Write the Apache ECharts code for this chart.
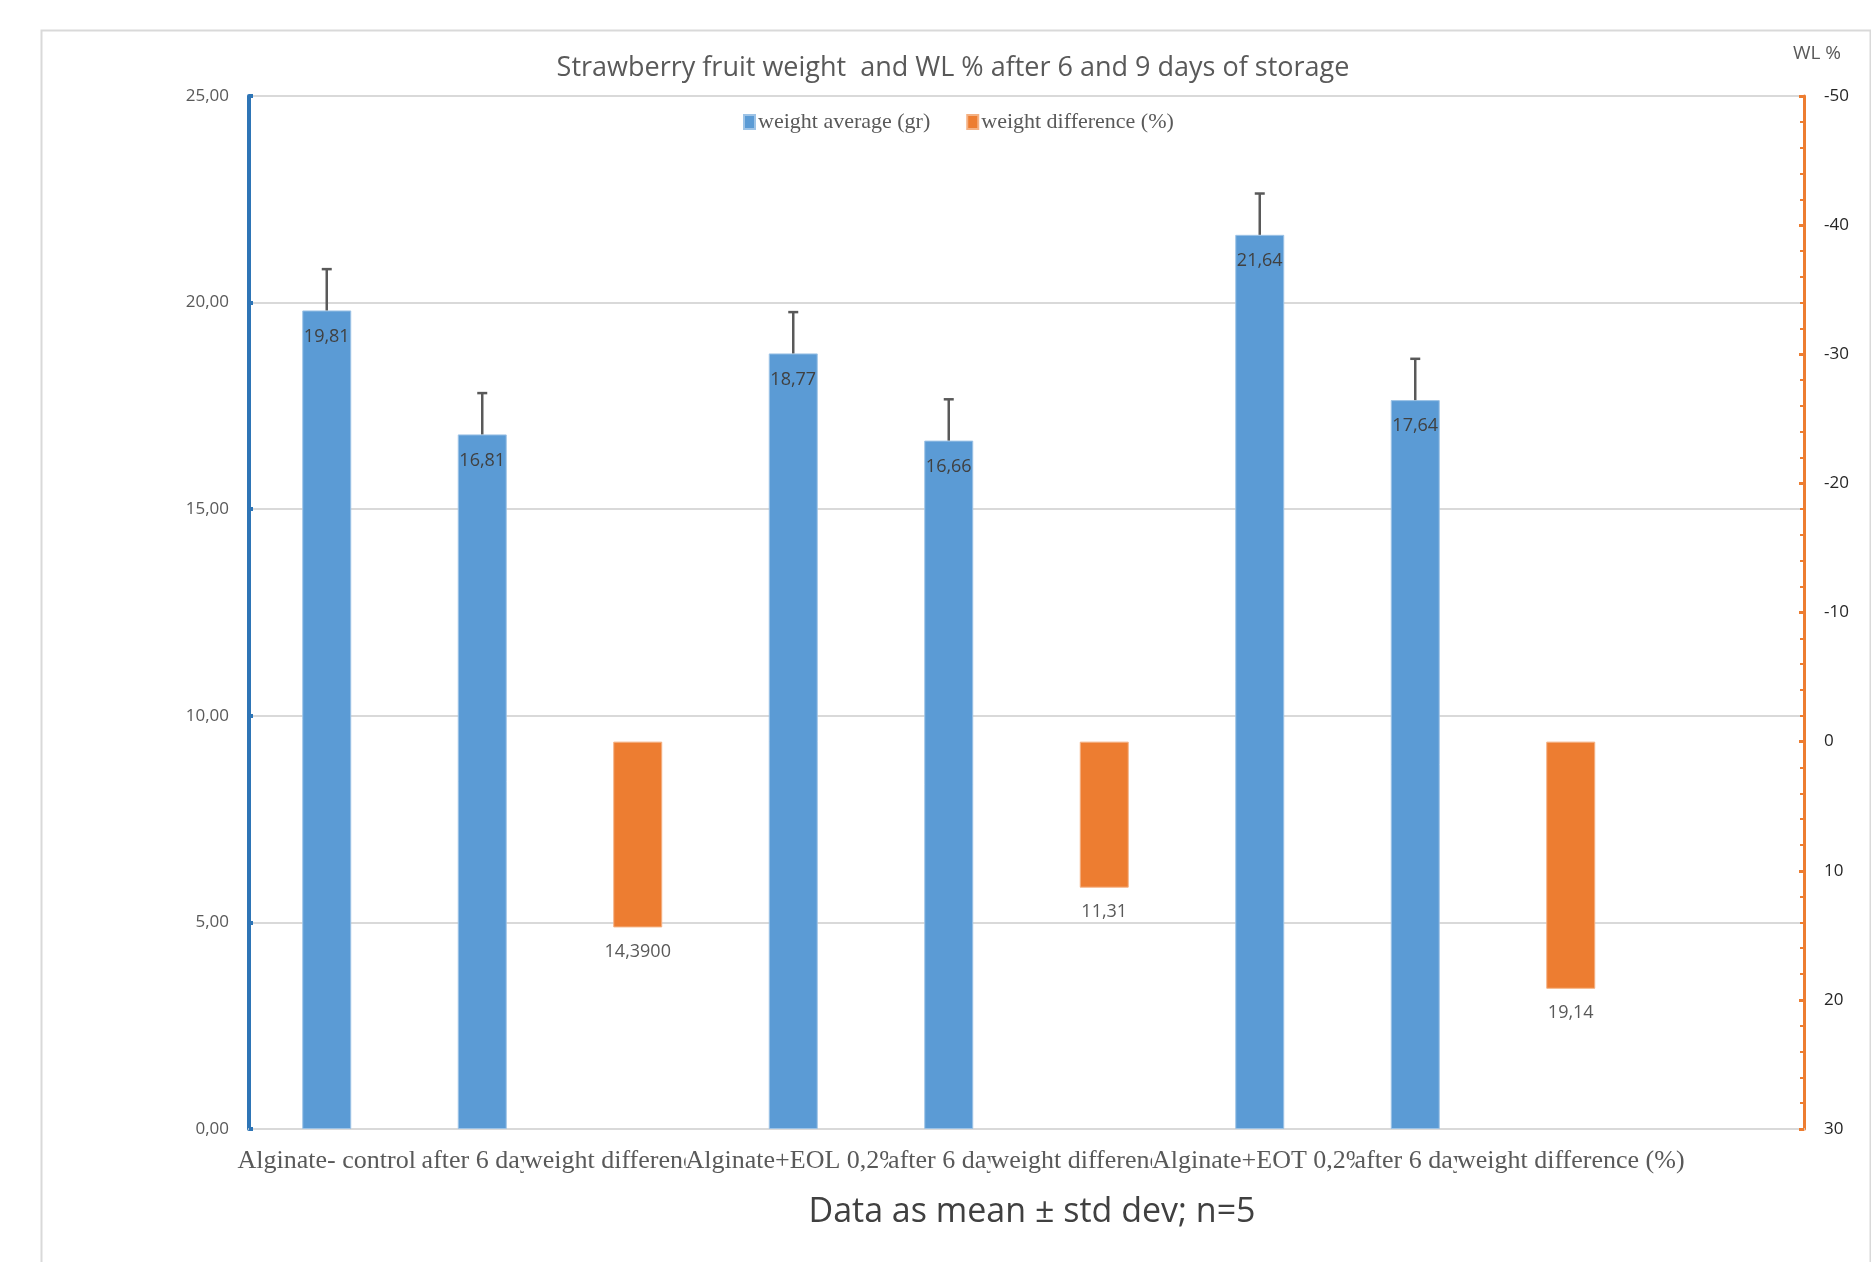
<!DOCTYPE html>
<html>
<head>
<meta charset="utf-8">
<script src="https://cdn.jsdelivr.net/npm/echarts@6/dist/echarts.min.js"></script>
<style>
html,body{margin:0;padding:0;background:#fff;}
#chart{width:1871px;height:1262px;}
</style>
</head>
<body>
<div id="chart"></div>
<script>
// ---- data ----
// Category names; as in the spreadsheet, each label is overdrawn by the next one, so long names appear cut.
const categories = ['Alginate- control', 'after 6 days', 'weight difference (%)', 'Alginate+EOL 0,2%', 'after 6 days', 'weight difference (%)', 'Alginate+EOT 0,2%', 'after 6 days', 'weight difference (%)', ''];
const weightAverage = [19.81, 16.81, null, 18.77, 16.66, null, 21.64, 17.64, null, null];
const weightStdDev = [1.0, 1.0, null, 1.0, 1.0, null, 1.0, 1.0, null, null];
const weightDifference = [null, null, 14.39, null, null, 11.31, null, null, 19.14, null];
const weightDifferenceLabels = ['', '', '14,3900', '', '', '11,31', '', '', '19,14', ''];
const leftTicks = [0, 5, 10, 15, 20, 25];
const rightTicks = [-50, -40, -30, -20, -10, 0, 10, 20, 30];

const errorData = [];
weightAverage.forEach((v, i) => { if (v != null) errorData.push([i, v, weightStdDev[i]]); });

const chart = echarts.init(document.getElementById('chart'));
const gray = '#595959';

chart.setOption({
  backgroundColor: '#ffffff',
  animation: false,
  graphic: [{
    type: 'rect', left: 39, top: 28, silent: true,
    shape: { width: 1829, height: 1300 },
    style: { fill: 'none', stroke: '#d9d9d9', lineWidth: 2 }
  }],
  title: [
    { text: 'Strawberry fruit weight  and WL % after 6 and 9 days of storage', left: 948, top: 50, textAlign: 'center',
      textStyle: { fontFamily: 'Open Sans', fontSize: 27, fontWeight: 'normal', color: gray } },
    { text: 'WL %', left: 1812, top: 39, textAlign: 'center',
      textStyle: { fontFamily: 'Open Sans', fontSize: 19, fontWeight: 'normal', color: gray } },
    { text: 'Data as mean \u00B1 std dev; n=5', left: 1027, top: 1190, textAlign: 'center',
      textStyle: { fontFamily: 'Open Sans', fontSize: 34, fontWeight: 'normal', color: '#404040' } }
  ],
  legend: {
    left: 738, top: 106,
    itemWidth: 11, itemHeight: 14, itemGap: 36, icon: 'rect',
    data: ['weight average (gr)', 'weight difference (%)'],
    textStyle: { fontFamily: 'Liberation Serif', fontSize: 22, color: gray, padding: [0, 0, 0, -2] }
  },
  grid: { left: 249, right: 67, top: 96, bottom: 133 },
  xAxis: {
    type: 'category',
    data: categories,
    axisLine: { show: true, lineStyle: { color: '#d9d9d9', width: 2 } },
    axisTick: { show: false },
    axisLabel: { interval: 0, hideOverlap: false, margin: 19, fontFamily: 'Liberation Serif', fontSize: 26, color: gray,
      backgroundColor: '#ffffff' }
  },
  yAxis: [
    {
      type: 'value', min: leftTicks[0], max: leftTicks[leftTicks.length - 1], interval: 5, position: 'left',
      axisLine: { show: true, lineStyle: { color: '#2e75b6', width: 4 } },
      axisTick: { show: true, inside: true, length: 4, lineStyle: { color: '#2e75b6', width: 4 } },
      splitLine: { show: true, lineStyle: { color: '#d9d9d9', width: 2 } },
      axisLabel: { margin: 20, fontFamily: 'Open Sans', fontSize: 17, color: gray,
        formatter: v => v.toFixed(2).replace('.', ',') }
    },
    {
      type: 'value', min: rightTicks[0], max: rightTicks[rightTicks.length - 1], interval: 10, inverse: true, position: 'right',
      axisLine: { show: true, lineStyle: { color: '#ed7d31', width: 3 } },
      axisTick: { show: true, inside: true, length: 5, lineStyle: { color: '#ed7d31', width: 3 } },
      minorTick: { show: true, splitNumber: 5, length: 4, lineStyle: { color: '#ed7d31', width: 2 } },
      splitLine: { show: false },
      axisLabel: { margin: 20, fontFamily: 'Open Sans', fontSize: 17, color: '#262626', align: 'left' }
    }
  ],
  series: [
    {
      name: 'weight average (gr)', type: 'bar', yAxisIndex: 0, data: weightAverage,
      barWidth: '31.5%', barGap: '-100%',
      itemStyle: { color: '#5b9bd5', borderColor: '#9dc3e6', borderWidth: 1 },
      label: { show: true, position: 'insideTop', distance: 17, fontFamily: 'Open Sans', fontSize: 18, color: '#404040',
        formatter: p => p.value.toFixed(2).replace('.', ',') }
    },
    {
      name: 'weight difference (%)', type: 'bar', yAxisIndex: 1, data: weightDifference,
      barWidth: '31.5%', barGap: '-100%',
      itemStyle: { color: '#ed7d31', borderColor: '#f4b183', borderWidth: 1 },
      label: { show: true, position: 'bottom', distance: 15, fontFamily: 'Open Sans', fontSize: 18, color: gray,
        formatter: p => weightDifferenceLabels[p.dataIndex] }
    },
    {
      name: 'err', type: 'custom', yAxisIndex: 0, data: errorData, z: 10, silent: true,
      encode: { x: 0, y: 1 },
      renderItem: (params, api) => {
        const x = api.value(0), m = api.value(1), sd = api.value(2);
        const p0 = api.coord([x, m]);
        const p1 = api.coord([x, m + sd]);
        const style = { stroke: '#595959', lineWidth: 2.5 };
        return { type: 'group', children: [
          { type: 'line', shape: { x1: p0[0], y1: p0[1], x2: p1[0], y2: p1[1] }, style },
          { type: 'line', shape: { x1: p1[0] - 5, y1: p1[1], x2: p1[0] + 5, y2: p1[1] }, style }
        ] };
      }
    }
  ]
});
</script>
</body>
</html>
